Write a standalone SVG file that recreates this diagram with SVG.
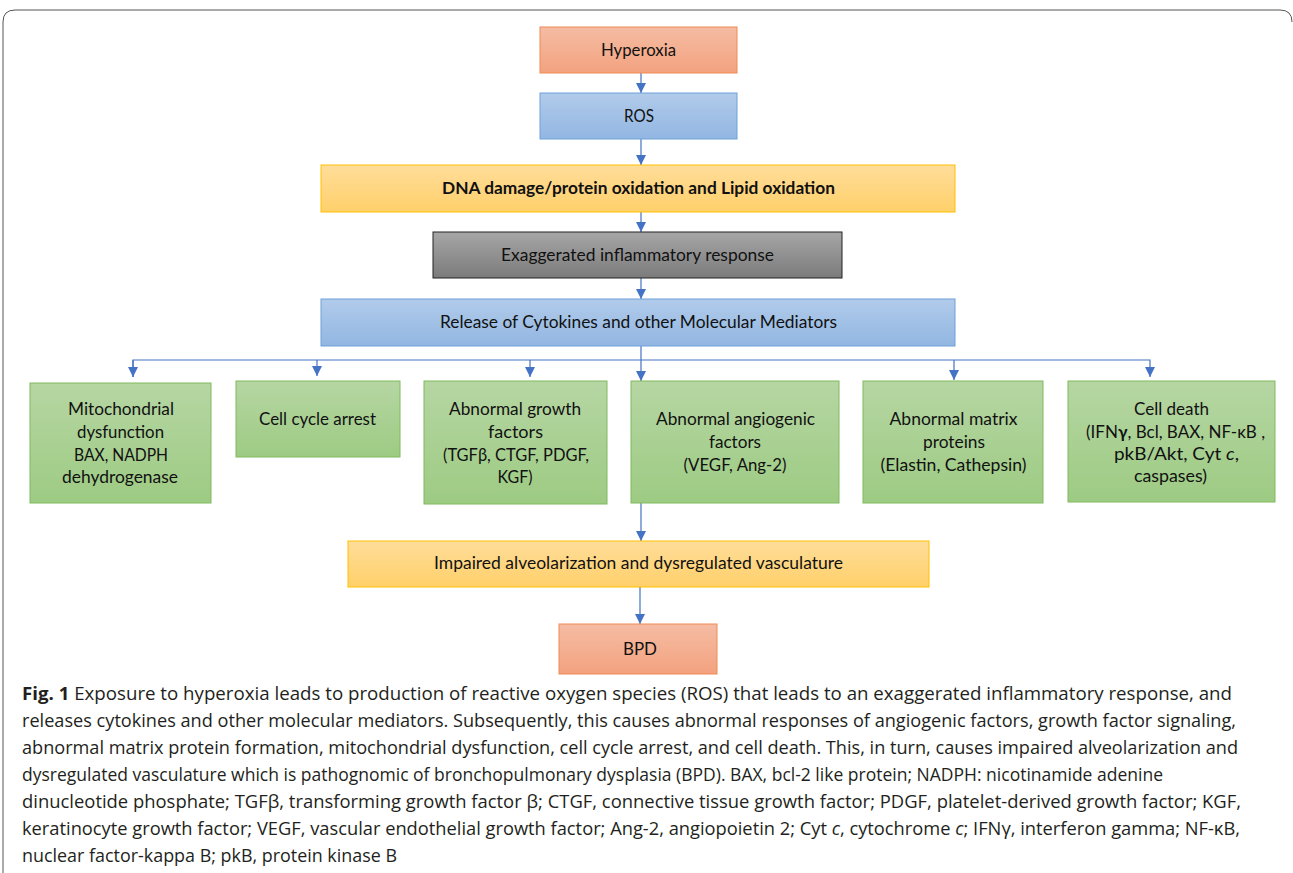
<svg xmlns="http://www.w3.org/2000/svg" width="1293" height="873" viewBox="0 0 1293 873">
<defs>
<linearGradient id="gOr" x1="0" y1="0" x2="0" y2="1"><stop offset="0" stop-color="#f5bca3"/><stop offset="1" stop-color="#f3a27f"/></linearGradient>
<linearGradient id="gBl" x1="0" y1="0" x2="0" y2="1"><stop offset="0" stop-color="#b1cbea"/><stop offset="1" stop-color="#92b6e2"/></linearGradient>
<linearGradient id="gYe" x1="0" y1="0" x2="0" y2="1"><stop offset="0" stop-color="#ffdd9a"/><stop offset="1" stop-color="#ffd06a"/></linearGradient>
<linearGradient id="gGr" x1="0" y1="0" x2="0" y2="1"><stop offset="0" stop-color="#a6a6a6"/><stop offset="1" stop-color="#7b7b7b"/></linearGradient>
<linearGradient id="gGn" x1="0" y1="0" x2="0" y2="1"><stop offset="0" stop-color="#b6d6a3"/><stop offset="1" stop-color="#9dcb83"/></linearGradient>
<marker id="arr" viewBox="0 0 10 10" refX="10" refY="5" markerWidth="10" markerHeight="10" markerUnits="userSpaceOnUse" orient="auto"><path d="M0,0 L10,5 L0,10 z" fill="#4472c4"/></marker>
</defs>
<style>
.or{fill:url(#gOr);stroke:#f08a55;stroke-width:1}
.bl{fill:url(#gBl);stroke:#6fa1d9;stroke-width:1}
.ye{fill:url(#gYe);stroke:#ffc000;stroke-width:1}
.gr{fill:url(#gGr);stroke:#222;stroke-width:1}
.gn{fill:url(#gGn);stroke:#7fba5c;stroke-width:1}
.t{font-family:Lato,"Liberation Sans",Arial,sans-serif;font-size:17px;fill:#111;text-anchor:middle}
.b{font-weight:bold}
.c{stroke:#4472c4;stroke-width:1.2;fill:none}
.cap{font-family:"Open Sans","Liberation Sans",Arial,sans-serif;font-size:17.5px;fill:#231f20}
</style>
<rect width="1293" height="873" fill="#fff"/>
<path d="M3,873 V22 Q3,10 15,10 H1280 Q1292,10 1292,22" fill="none" stroke="#555" stroke-width="1"/>

<g id="connectors">
<line class="c" x1="641" y1="73" x2="641" y2="93" marker-end="url(#arr)"/>
<line class="c" x1="641" y1="139" x2="641" y2="165" marker-end="url(#arr)"/>
<line class="c" x1="641" y1="212" x2="641" y2="232" marker-end="url(#arr)"/>
<line class="c" x1="641" y1="278" x2="641" y2="299" marker-end="url(#arr)"/>
<line class="c" x1="641" y1="346" x2="641" y2="381" marker-end="url(#arr)"/>
<polyline class="c" points="133,377 133,360 1150,360 1150,377" marker-end="url(#arr)"/>
<line class="c" x1="133" y1="360" x2="133" y2="377" marker-end="url(#arr)"/>
<line class="c" x1="317" y1="360" x2="317" y2="376" marker-end="url(#arr)"/>
<line class="c" x1="530" y1="360" x2="530" y2="377" marker-end="url(#arr)"/>
<line class="c" x1="954" y1="360" x2="954" y2="380" marker-end="url(#arr)"/>
<line class="c" x1="641" y1="503" x2="641" y2="541" marker-end="url(#arr)"/>
<line class="c" x1="640" y1="587" x2="640" y2="624" marker-end="url(#arr)"/>
</g>

<g id="hyperoxia"><rect class="or" x="540" y="27" width="197" height="46"/><text class="t" x="638.5" y="56" textLength="75" lengthAdjust="spacingAndGlyphs">Hyperoxia</text></g>
<g id="ros"><rect class="bl" x="540" y="93" width="197" height="46"/><text class="t" x="639" y="122" textLength="30" lengthAdjust="spacingAndGlyphs">ROS</text></g>
<g id="dna"><rect class="ye" x="321" y="165" width="634" height="47"/><text class="t b" x="638.5" y="194" textLength="393" lengthAdjust="spacingAndGlyphs">DNA damage/protein oxidation and Lipid oxidation</text></g>
<g id="inflam"><rect class="gr" x="433" y="232" width="409" height="46"/><text class="t" x="637.5" y="261" textLength="273" lengthAdjust="spacingAndGlyphs">Exaggerated inflammatory response</text></g>
<g id="release"><rect class="bl" x="321" y="299" width="634" height="47"/><text class="t" x="638.5" y="328" textLength="397" lengthAdjust="spacingAndGlyphs">Release of Cytokines and other Molecular Mediators</text></g>

<g id="mito"><rect class="gn" x="30" y="383" width="181" height="120"/>
<text class="t" x="121" y="415" textLength="106" lengthAdjust="spacingAndGlyphs">Mitochondrial</text>
<text class="t" x="120.5" y="438" textLength="87" lengthAdjust="spacingAndGlyphs">dysfunction</text>
<text class="t" x="121" y="461" textLength="94" lengthAdjust="spacingAndGlyphs">BAX, NADPH</text>
<text class="t" x="120" y="483" textLength="116" lengthAdjust="spacingAndGlyphs">dehydrogenase</text></g>
<g id="cellcycle"><rect class="gn" x="236" y="381" width="164" height="76"/>
<text class="t" x="317.5" y="425" textLength="117" lengthAdjust="spacingAndGlyphs">Cell cycle arrest</text></g>
<g id="growth"><rect class="gn" x="424" y="381" width="183" height="123"/>
<text class="t" x="515" y="415" textLength="132" lengthAdjust="spacingAndGlyphs">Abnormal growth</text>
<text class="t" x="515.5" y="438" textLength="55" lengthAdjust="spacingAndGlyphs">factors</text>
<text class="t" x="516" y="461" textLength="146" lengthAdjust="spacingAndGlyphs">(TGFβ, CTGF, PDGF,</text>
<text class="t" x="515" y="483" textLength="35" lengthAdjust="spacingAndGlyphs">KGF)</text></g>
<g id="angio"><rect class="gn" x="631" y="381" width="208" height="122"/>
<text class="t" x="735.5" y="425" textLength="159" lengthAdjust="spacingAndGlyphs">Abnormal angiogenic</text>
<text class="t" x="735" y="448" textLength="52" lengthAdjust="spacingAndGlyphs">factors</text>
<text class="t" x="735" y="471" textLength="103" lengthAdjust="spacingAndGlyphs">(VEGF, Ang-2)</text></g>
<g id="matrix"><rect class="gn" x="863" y="381" width="180" height="122"/>
<text class="t" x="953.5" y="425" textLength="128" lengthAdjust="spacingAndGlyphs">Abnormal matrix</text>
<text class="t" x="954" y="448" textLength="62" lengthAdjust="spacingAndGlyphs">proteins</text>
<text class="t" x="953.5" y="471" textLength="146" lengthAdjust="spacingAndGlyphs">(Elastin, Cathepsin)</text></g>
<g id="death"><rect class="gn" x="1068" y="381" width="207" height="121"/>
<text class="t" x="1171.5" y="415" textLength="75" lengthAdjust="spacingAndGlyphs">Cell death</text>
<text class="t" x="1175.5" y="438" textLength="179" lengthAdjust="spacingAndGlyphs">(IFN<tspan class="b">γ</tspan>, Bcl, BAX, NF-κB ,</text>
<text class="t" x="1176.5" y="460" textLength="125" lengthAdjust="spacingAndGlyphs">pkB/Akt, Cyt <tspan font-style="italic">c</tspan>,</text>
<text class="t" x="1170.5" y="482" textLength="73" lengthAdjust="spacingAndGlyphs">caspases)</text></g>

<g id="impaired"><rect class="ye" x="348" y="541" width="581" height="46"/><text class="t" x="638.5" y="569" textLength="409" lengthAdjust="spacingAndGlyphs">Impaired alveolarization and dysregulated vasculature</text></g>
<g id="bpd"><rect class="or" x="559" y="624" width="158" height="50"/><text class="t" x="640" y="655" textLength="34" lengthAdjust="spacingAndGlyphs">BPD</text></g>

<g id="caption">
<text class="cap" x="22" y="700" textLength="1210" lengthAdjust="spacingAndGlyphs"><tspan font-weight="bold">Fig. 1</tspan>  Exposure to hyperoxia leads to production of reactive oxygen species (ROS) that leads to an exaggerated inflammatory response, and</text>
<text class="cap" x="22" y="727" textLength="1214" lengthAdjust="spacingAndGlyphs">releases cytokines and other molecular mediators. Subsequently, this causes abnormal responses of angiogenic factors, growth factor signaling,</text>
<text class="cap" x="22" y="754" textLength="1216" lengthAdjust="spacingAndGlyphs">abnormal matrix protein formation, mitochondrial dysfunction, cell cycle arrest, and cell death. This, in turn, causes impaired alveolarization and</text>
<text class="cap" x="22" y="781" textLength="1141" lengthAdjust="spacingAndGlyphs">dysregulated vasculature which is pathognomic of bronchopulmonary dysplasia (BPD). BAX, bcl-2 like protein; NADPH: nicotinamide adenine</text>
<text class="cap" x="22" y="808" textLength="1219" lengthAdjust="spacingAndGlyphs">dinucleotide phosphate; TGFβ, transforming growth factor β; CTGF, connective tissue growth factor; PDGF, platelet-derived growth factor; KGF,</text>
<text class="cap" x="22" y="835" textLength="1218" lengthAdjust="spacingAndGlyphs">keratinocyte growth factor; VEGF, vascular endothelial growth factor; Ang-2, angiopoietin 2; Cyt <tspan font-style="italic">c</tspan>, cytochrome <tspan font-style="italic">c</tspan>; IFNγ, interferon gamma; NF-κB,</text>
<text class="cap" x="22" y="862" textLength="375" lengthAdjust="spacingAndGlyphs">nuclear factor-kappa B; pkB, protein kinase B</text>
</g>
</svg>
